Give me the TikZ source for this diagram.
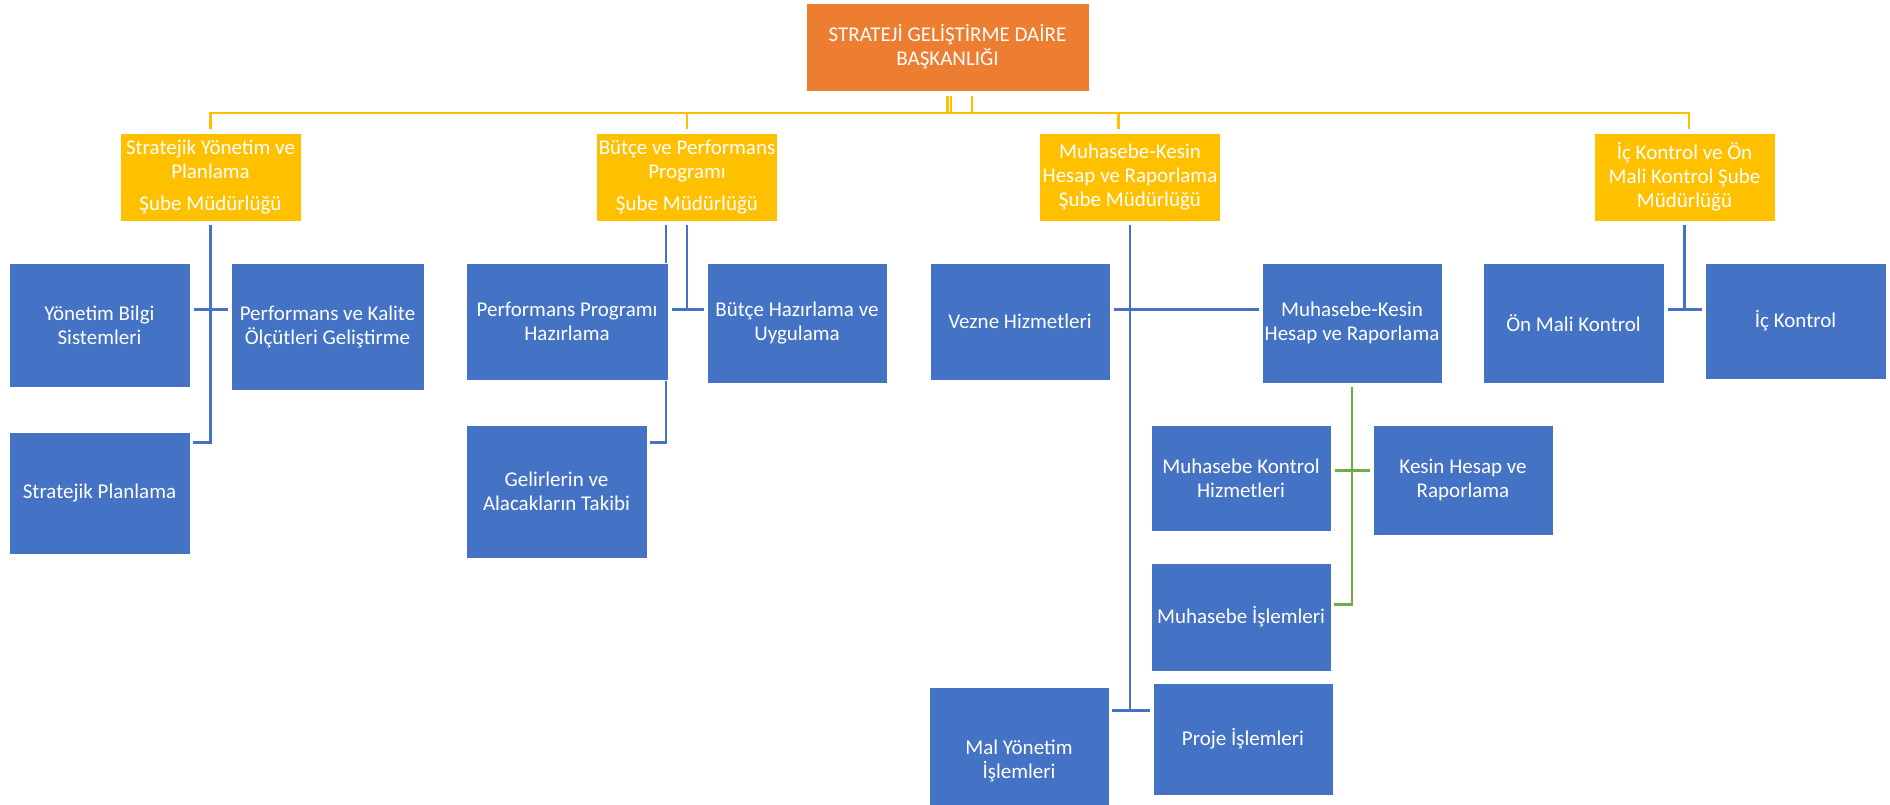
\documentclass[tikz,border=0pt]{standalone}
\usepackage{fontspec}
\setmainfont{Carlito}
\usetikzlibrary{positioning}
\definecolor{sdblue}{HTML}{4472C4}
\definecolor{sdorange}{HTML}{ED7D31}
\definecolor{sdgold}{HTML}{FFC000}
\definecolor{sdgreen}{HTML}{70AD47}
\pgfdeclarelayer{bg}
\pgfsetlayers{bg,main}
\tikzstyle{every node}=[font=\fontsize{21}{24}\selectfont]
\tikzstyle{box}=[rectangle,draw=white,line width=0.8pt,text=white,align=center,inner sep=0pt]
\tikzstyle{head}=[box,fill=sdorange,minimum width=283pt,minimum height=88pt]
\tikzstyle{dept}=[box,fill=sdgold,minimum width=181pt,minimum height=88pt]
\tikzstyle{unit}=[box,fill=sdblue]
\tikzstyle{yline}=[draw=sdgold,line width=2.2pt,shorten <=5pt,shorten >=4pt]
\tikzstyle{bline}=[draw=sdblue,line width=2.4pt,shorten <=4pt,shorten >=3pt]
\tikzstyle{gline}=[draw=sdgreen,line width=2.4pt,shorten <=4pt,shorten >=3pt]

\begin{document}
\begin{tikzpicture}[x=1pt,y=-1pt]
\useasboundingbox (0,0) rectangle (1890,805);
\node[head] (sgdb) at (947.5,47) {STRATEJİ GELİŞTİRME DAİRE\\BAŞKANLIĞI};
\node[dept] (syp) at (210.5,177) {Stratejik Yönetim ve\\Planlama\\[8pt]Şube Müdürlüğü};
\node[dept] (bpp) at (687,177) {Bütçe ve Performans\\Programı\\[8pt]Şube Müdürlüğü};
\node[dept] (mkr) at (1130,177) {Muhasebe-Kesin\\Hesap ve Raporlama\\Şube Müdürlüğü};
\node[dept] (ickm) at (1684.5,177) {İç Kontrol ve Ön\\Mali Kontrol Şube\\Müdürlüğü};

\node[unit,minimum width=181pt,minimum height=124pt] (ybs) at (99.5,325) {Yönetim Bilgi\\Sistemleri};
\node[unit,minimum width=193pt,minimum height=127pt] (pkg) at (327.5,326.5) {Performans ve Kalite\\Ölçütleri Geliştirme};
\node[unit,minimum width=181pt,minimum height=122pt] (sp) at (99.5,493) {Stratejik Planlama};
\node[unit,minimum width=202pt,minimum height=117pt] (pph) at (567,321.5) {Performans Programı\\Hazırlama};
\node[unit,minimum width=180pt,minimum height=120pt] (bhu) at (797,323) {Bütçe Hazırlama ve\\Uygulama};
\node[unit,minimum width=181pt,minimum height=133pt] (gat) at (556.5,491.5) {Gelirlerin ve\\Alacakların Takibi};
\node[unit,minimum width=180pt,minimum height=117pt] (vh) at (1020,321.5) {Vezne Hizmetleri};
\node[unit,minimum width=180pt,minimum height=120pt] (mkhr) at (1352,323) {Muhasebe-Kesin\\Hesap ve Raporlama};
\node[unit,minimum width=180pt,minimum height=106pt] (mkh) at (1241,478) {Muhasebe Kontrol\\Hizmetleri};
\node[unit,minimum width=180pt,minimum height=110pt] (khr) at (1463,480) {Kesin Hesap ve\\Raporlama};
\node[unit,minimum width=180pt,minimum height=108pt] (mi) at (1241,617) {Muhasebe İşlemleri};
\node[unit,minimum width=180pt,minimum height=148pt] (myi) at (1019,761) {Mal Yönetim\\İşlemleri};
\node[unit,minimum width=180pt,minimum height=112pt] (pi) at (1243,739) {Proje İşlemleri};
\node[unit,minimum width=181pt,minimum height=120pt] (omk) at (1573.5,323) {Ön Mali Kontrol};
\node[unit,minimum width=181pt,minimum height=116pt] (ick) at (1795.5,321) {İç Kontrol};

\begin{pgfonlayer}{bg}
\draw[yline] (sgdb.south) -- ++(0,22) -| (syp.north);
\draw[yline] ([xshift=3.5pt]sgdb.south) -- ++(0,22) -| (bpp.north);
\draw[yline] ([xshift=3.5pt]sgdb.south) -- ++(0,22) -| ([xshift=-11.5pt]mkr.north);
\draw[yline] ([xshift=24.5pt]sgdb.south) -- ++(0,22) -| ([xshift=4.5pt]ickm.north);

\draw[bline] (syp.south) |- ([yshift=-11pt]sp.north east);
\draw[bline] ([yshift=-47pt]ybs.north east) -- ([yshift=-47pt]pkg.north west);

\draw[bline] (bpp.south) |- ([yshift=-47pt]bhu.north west);
\draw[bline] ([yshift=-47pt]pph.north east) -- ([yshift=-47pt]bhu.north west);
\draw[bline] ([xshift=-21pt]bpp.south) |- ([yshift=-18pt]gat.north east);

\draw[bline] (mkr.south) |- ([yshift=-24pt]myi.north east);
\draw[bline] ([yshift=-24pt]myi.north east) -- ([yshift=-28pt]pi.north west);
\draw[bline] ([yshift=-47pt]vh.north east) -- ([yshift=-47pt]mkhr.north west);

\draw[gline] (mkhr.south) |- ([yshift=-42pt]mi.north east);
\draw[gline] ([yshift=-46pt]mkh.north east) -- ([yshift=-46pt]khr.north west);

\draw[bline] (ickm.south) |- ([yshift=-47pt]ick.north west);
\draw[bline] ([yshift=-47pt]omk.north east) -- ([yshift=-47pt]ick.north west);
\end{pgfonlayer}
\end{tikzpicture}
\end{document}
